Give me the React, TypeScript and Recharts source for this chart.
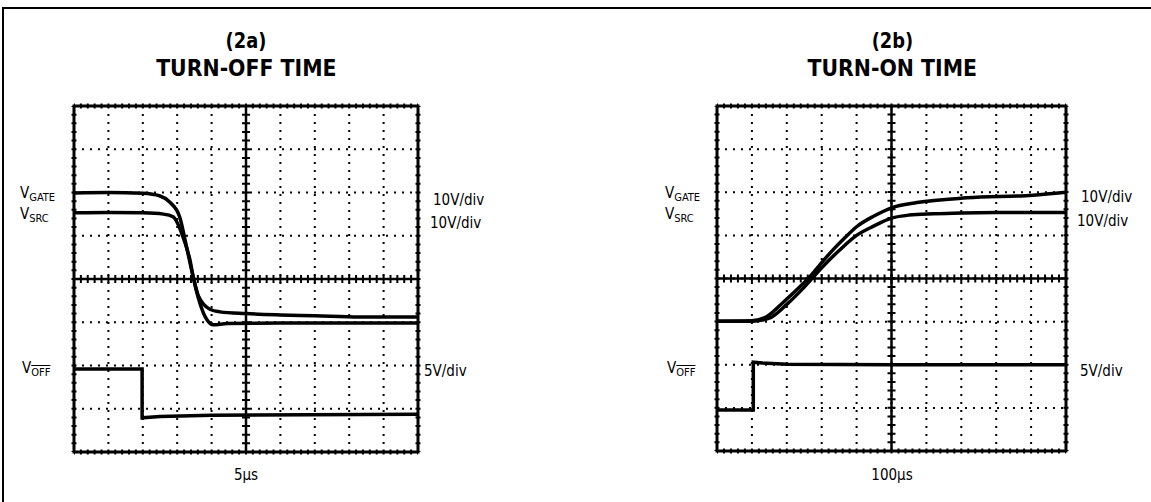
import { LineChart, Line, XAxis, YAxis, CartesianGrid, ReferenceLine, ReferenceArea } from "recharts";

// scope traces, x and y in screen divisions (x 0..10, y 0..8 from bottom)
const offGateX = [0, 1, 2, 2.5, 2.78, 3.07, 3.27, 3.47, 3.62, 3.95, 4.24, 5, 6, 7, 8.3, 10];
const offGateY = [5.99, 6.0, 5.98, 5.92, 5.78, 5.44, 4.75, 4.03, 3.6, 3.3, 3.24, 3.2, 3.17, 3.15, 3.12, 3.12];
const offSrcX = [0, 1, 2, 2.6, 2.88, 3.17, 3.37, 3.47, 3.66, 3.87, 4.05, 4.45, 6, 8, 10];
const offSrcY = [5.53, 5.54, 5.53, 5.5, 5.44, 4.97, 4.44, 4.03, 3.44, 3.05, 2.94, 2.97, 2.98, 2.98, 2.98];
const offCtlX = [0, 1.98, 1.98, 2.5, 4, 10];
const offCtlY = [1.92, 1.92, 0.79, 0.82, 0.85, 0.87];

const onGateX = [0, 1.0, 1.43, 1.9, 2.3, 2.67, 3.0, 3.33, 3.67, 4.0, 4.5, 5.0, 5.73, 7.16, 9.05, 10];
const onGateY = [3.01, 3.02, 3.12, 3.45, 3.75, 4.05, 4.37, 4.67, 4.95, 5.2, 5.45, 5.64, 5.76, 5.87, 5.93, 6.0];
const onSrcX = [0, 1.0, 1.5, 2.0, 2.5, 3.0, 3.5, 4.0, 4.5, 5.0, 5.5, 6.2, 7, 8, 10];
const onSrcY = [3.01, 3.01, 3.08, 3.4, 3.8, 4.25, 4.65, 5.0, 5.22, 5.4, 5.47, 5.5, 5.52, 5.53, 5.53];
const onCtlX = [0, 1.04, 1.04, 1.3, 2, 5, 10];
const onCtlY = [0.95, 0.95, 2.06, 2.04, 2.01, 2.0, 2.0];

const xTicks = [0, 1, 2, 3, 4, 5, 6, 7, 8, 9, 10];
const yTicks = [0, 1, 2, 3, 4, 5, 6, 7, 8];

const zip = (xs: number[], ys: number[]) => xs.map((t, i) => ({ t, v: ys[i] }));

const labelFont = '"Liberation Sans Narrow", "DejaVu Sans Condensed", "Roboto", sans-serif';

function Scope({ left, top, w, h, gate, src, ctl }: any) {
  const m = 4;
  // minor graticule marks every 0.2 div, drawn as thick dashed lines
  const sx = (w - 2 * m) / 50;
  const sy = (h - 2 * m) / 40;
  const dashX = `2 ${(sx - 2).toFixed(2)}`;
  const dashY = `2 ${(sy - 2).toFixed(2)}`;
  return (
    <div style={{ position: "absolute", left, top }}>
      <LineChart width={w} height={h} margin={{ top: m, right: m, bottom: m, left: m }}>
        <XAxis type="number" dataKey="t" domain={[0, 10]} ticks={xTicks} hide />
        <YAxis type="number" dataKey="v" domain={[0, 8]} ticks={yTicks} hide />
        <CartesianGrid stroke="#000" strokeWidth={2} strokeDasharray="2 6" />
        <ReferenceLine x={5} stroke="#000" strokeWidth={2.5} />
        <ReferenceLine y={4} stroke="#000" strokeWidth={2.5} />
        <ReferenceLine y={4} stroke="#000" strokeWidth={8} strokeDasharray={dashX} strokeDashoffset={1} />
        <ReferenceLine x={5} stroke="#000" strokeWidth={8} strokeDasharray={dashY} strokeDashoffset={1} />
        <ReferenceLine y={0} stroke="#000" strokeWidth={5} strokeDasharray={dashX} strokeDashoffset={1} />
        <ReferenceLine y={8} stroke="#000" strokeWidth={5} strokeDasharray={dashX} strokeDashoffset={1} />
        <ReferenceLine x={0} stroke="#000" strokeWidth={5} strokeDasharray={dashY} strokeDashoffset={1} />
        <ReferenceLine x={10} stroke="#000" strokeWidth={5} strokeDasharray={dashY} strokeDashoffset={1} />
        <ReferenceArea x1={0} x2={10} y1={0} y2={8} fill="none" stroke="#000" strokeWidth={3} />
        <Line data={gate} dataKey="v" type="monotone" stroke="#000" strokeWidth={3.5} dot={false} isAnimationActive={false} />
        <Line data={src} dataKey="v" type="monotone" stroke="#000" strokeWidth={3.5} dot={false} isAnimationActive={false} />
        <Line data={ctl} dataKey="v" type="linear" stroke="#000" strokeWidth={3.5} dot={false} isAnimationActive={false} />
      </LineChart>
    </div>
  );
}

function Txt({ x, y, size = 15, center = false, children }: any) {
  return (
    <div
      style={{
        position: "absolute",
        left: x,
        top: y,
        transform: center ? "translateX(-50%)" : undefined,
        fontFamily: labelFont,
        fontSize: size,
        lineHeight: 1,
        whiteSpace: "nowrap",
        color: "#000",
      }}
    >
      {children}
    </div>
  );
}

function Title({ x, y, size, sx, children }: any) {
  return (
    <div style={{ position: "absolute", left: x - 150, top: y, width: 300, textAlign: "center" }}>
      <span
        style={{
          display: "inline-block",
          transform: `scaleX(${sx})`,
          fontFamily: '"DejaVu Sans", sans-serif',
          fontWeight: 700,
          fontSize: size,
          lineHeight: 1,
          whiteSpace: "nowrap",
        }}
      >
        {children}
      </span>
    </div>
  );
}

const Sig = ({ name, over = false }: any) => (
  <span>
    V
    <span style={{ fontSize: 11, verticalAlign: -3, textDecoration: over ? "overline" : "none" }}>{name}</span>
  </span>
);

export default function App() {
  return (
    <div style={{ position: "absolute", left: 0, top: 0, width: 1151, height: 502, background: "#fff", overflow: "hidden" }}>
      <div style={{ position: "absolute", left: 2, top: 7, width: 1149, height: 2, background: "#000" }} />
      <div style={{ position: "absolute", left: 2, top: 7, width: 2, height: 495, background: "#000" }} />

      <Title x={246} y={31} size={21} sx={0.85}>(2a)</Title>
      <Title x={246} y={57} size={23} sx={0.89}>TURN-OFF TIME</Title>
      <Title x={892} y={31} size={21} sx={0.85}>(2b)</Title>
      <Title x={892} y={57} size={23} sx={0.89}>TURN-ON TIME</Title>

      <Scope left={70} top={102} w={352} h={354} gate={zip(offGateX, offGateY)} src={zip(offSrcX, offSrcY)} ctl={zip(offCtlX, offCtlY)} />
      <Scope left={713} top={102} w={357} h={353} gate={zip(onGateX, onGateY)} src={zip(onSrcX, onSrcY)} ctl={zip(onCtlX, onCtlY)} />

      <Txt x={20} y={186}><Sig name="GATE" /></Txt>
      <Txt x={20} y={207}><Sig name="SRC" /></Txt>
      <Txt x={22} y={361}><Sig name="OFF" over /></Txt>
      <Txt x={433} y={193}>10V/div</Txt>
      <Txt x={430} y={216}>10V/div</Txt>
      <Txt x={424} y={364}>5V/div</Txt>
      <Txt x={246} y={468} center>5µs</Txt>

      <Txt x={665} y={186}><Sig name="GATE" /></Txt>
      <Txt x={665} y={207}><Sig name="SRC" /></Txt>
      <Txt x={667} y={361}><Sig name="OFF" over /></Txt>
      <Txt x={1081} y={190}>10V/div</Txt>
      <Txt x={1077} y={214}>10V/div</Txt>
      <Txt x={1080} y={364}>5V/div</Txt>
      <Txt x={892} y={468} center>100µs</Txt>
    </div>
  );
}
